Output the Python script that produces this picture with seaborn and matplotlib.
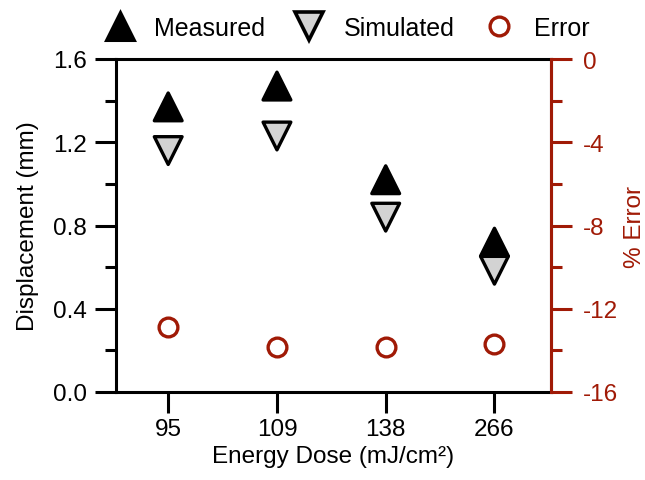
import matplotlib
matplotlib.use("Agg")
import matplotlib.pyplot as plt
from matplotlib.lines import Line2D
from matplotlib.ticker import MultipleLocator
import seaborn as sns
import pandas as pd

# Energy dose categories (mJ/cm^2)
doses = ["95", "109", "138", "266"]
# Displacement (mm)
measured = [1.37, 1.47, 1.02, 0.72]
simulated = [1.16, 1.23, 0.84, 0.585]
# Percent error between simulated and measured
error_pct = [-12.9, -13.85, -13.85, -13.7]

RED = "#A01A06"
LIGHT = "#D3D3D3"
FS = 17.5
TRI = 20
CIRC = 13.5

sns.set_theme(style="ticks")
plt.rcParams["font.family"] = ["Liberation Sans", "DejaVu Sans"]
plt.rcParams["axes.unicode_minus"] = False
plt.rcParams["axes.linewidth"] = 2.2
plt.rcParams["axes.edgecolor"] = "black"
plt.rcParams["axes.labelcolor"] = "black"
plt.rcParams["text.color"] = "black"
plt.rcParams["xtick.color"] = "black"
plt.rcParams["ytick.color"] = "black"

# long-form displacement table: measured rows first so simulated sits on top
disp = pd.DataFrame({
    "dose": doses + doses,
    "value": measured + simulated,
    "series": ["Measured"] * len(doses) + ["Simulated"] * len(doses),
})
err = pd.DataFrame({"dose": doses, "error": error_pct})

fig = plt.figure(figsize=(6.45, 4.81), dpi=100)
ax = fig.add_axes([116 / 645, 1 - 393 / 481, (551 - 116) / 645, (393 - 60) / 481])

sns.scatterplot(data=disp, x="dose", y="value", hue="series", style="series",
                palette={"Measured": "black", "Simulated": LIGHT},
                markers={"Measured": "^", "Simulated": "v"},
                s=TRI ** 2, edgecolor="black", linewidth=2.4,
                legend=False, ax=ax, zorder=3)

ax2 = ax.twinx()
sns.scatterplot(data=err, x="dose", y="error", marker="o", s=CIRC ** 2,
                color="white", edgecolor=RED, linewidth=2.4,
                legend=False, ax=ax2, zorder=3)

ax.set_xlim(-0.48, 3.52)
ax.set_ylim(0, 1.6)
ax.yaxis.set_major_locator(MultipleLocator(0.4))
ax.yaxis.set_minor_locator(MultipleLocator(0.2))
ax2.set_ylim(-16, 0)
ax2.yaxis.set_major_locator(MultipleLocator(4))
ax2.yaxis.set_minor_locator(MultipleLocator(2))

for name, s in ax2.spines.items():
    s.set_visible(name == "right")
ax2.spines["right"].set_color(RED)

ax.set_xlabel("Energy Dose (mJ/cm²)", fontsize=FS, labelpad=3)
ax.set_ylabel("Displacement (mm)", fontsize=FS, labelpad=10)
ax2.set_ylabel("% Error", fontsize=FS, color=RED, labelpad=4)

ax.tick_params(axis="x", which="major", direction="out", length=15,
               width=2.2, labelsize=FS, color="black", pad=4)
ax.tick_params(axis="y", which="major", direction="out", length=15,
               width=2.2, labelsize=FS, color="black", pad=6)
ax.tick_params(axis="y", which="minor", direction="out", length=8,
               width=2.2, color="black")
ax2.tick_params(axis="y", which="major", direction="out", length=15,
                width=2.2, labelsize=FS, colors=RED, pad=8)
ax2.tick_params(axis="y", which="minor", direction="out", length=8,
                width=2.2, colors=RED)

handles = [
    Line2D([], [], marker="^", linestyle="none", markersize=TRI,
           markerfacecolor="black", markeredgecolor="black", markeredgewidth=2.2),
    Line2D([], [], marker="v", linestyle="none", markersize=TRI,
           markerfacecolor=LIGHT, markeredgecolor="black", markeredgewidth=2.6),
    Line2D([], [], marker="o", linestyle="none", markersize=CIRC,
           markerfacecolor="white", markeredgecolor=RED, markeredgewidth=2.4),
]
fig.legend(handles, ["Measured", "Simulated", "Error"], loc="upper left",
           bbox_to_anchor=(102 / 645, 1 - 17 / 481), ncol=3, frameon=False,
           fontsize=18, handlelength=1.4, handletextpad=0.7,
           columnspacing=1.05, borderpad=0, borderaxespad=0)

fig.savefig("out.png", dpi=100)
